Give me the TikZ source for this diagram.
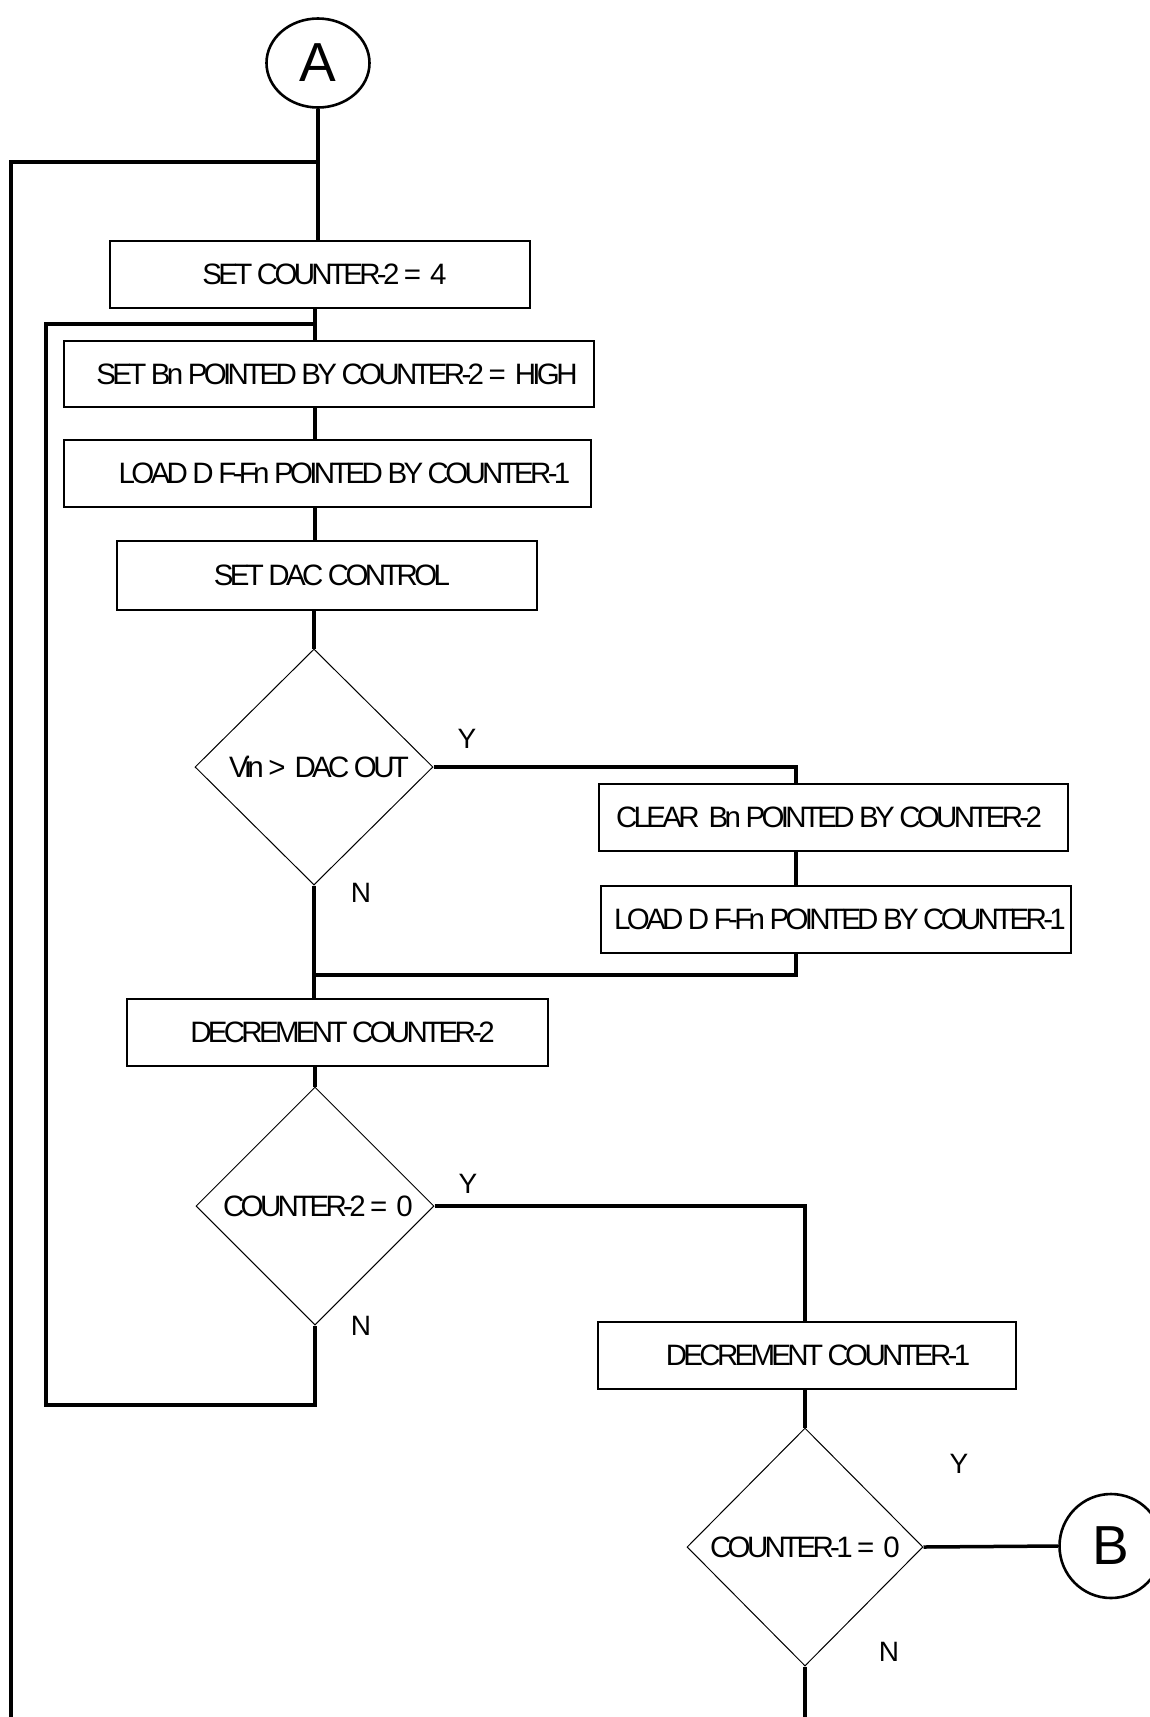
\documentclass[tikz,border=0pt]{standalone}
\usepackage{fontspec}
\setmainfont{Liberation Sans}[LetterSpace=-12.5]
\newfontfamily\ynfont{Liberation Sans}
\usetikzlibrary{shapes.geometric}
\begin{document}
\begin{tikzpicture}[x=1pt,y=-1pt,
  txt/.style={font=\fontsize{29.5}{31}\selectfont},
  procbox/.style={draw, line width=1.2pt, inner sep=0pt, txt},
  decbox/.style={diamond, draw, line width=1pt, inner sep=0pt, txt},
  conn/.style={draw, line width=3.5pt, line join=miter},
  connector/.style={ellipse, draw, line width=2.6pt, inner sep=0pt, font=\fontsize{55}{57}\selectfont\ynfont},
  yn/.style={font=\fontsize{28}{30}\selectfont\ynfont}]
\useasboundingbox[fill=white] (0,0) rectangle (1150,1717);

% connectors A, B
\node[connector, minimum width=103pt, minimum height=89pt] (A) at (318,63) {A};
\node[connector, minimum width=103pt, minimum height=104pt] (B) at (1111,1546) {B};

% process boxes
\node[procbox, minimum width=420pt, minimum height=67pt] (b1) at (320,274.5) {\hspace*{9pt}SET COUNTER-2 = \ 4};
\node[procbox, minimum width=530pt, minimum height=66pt] (b2) at (329,374) {\hspace*{16pt}SET Bn POINTED BY COUNTER-2 = \ HIGH};
\node[procbox, minimum width=527pt, minimum height=67pt] (b3) at (327.5,473.5) {\hspace*{34pt}LOAD D F-Fn POINTED BY COUNTER-1};
\node[procbox, minimum width=420pt, minimum height=69pt] (b4) at (327,575.5) {\hspace*{10pt}SET DAC CONTROL};
\node[procbox, minimum width=469pt, minimum height=67pt] (b5) at (833.5,817.5) {CLEAR \ Bn POINTED BY COUNTER-2\hspace*{9pt}};
\node[procbox, minimum width=470pt, minimum height=67pt] (b6) at (836,919.5) {\hspace*{8pt}LOAD D F-Fn POINTED BY COUNTER-1};
\node[procbox, minimum width=421pt, minimum height=67pt] (b7) at (337.5,1032.5) {\hspace*{10pt}DECREMENT COUNTER-2};
\node[procbox, minimum width=418pt, minimum height=67pt] (b8) at (807,1355.5) {\hspace*{22pt}DECREMENT COUNTER-1};

% decisions
\node[decbox, minimum width=238pt, minimum height=236pt] (d1) at (314,767) {\hspace*{10pt}Vin > \ DAC OUT};
\node[decbox, minimum width=238pt, minimum height=238pt] (d2) at (315,1206) {\hspace*{6pt}COUNTER-2 = \ 0};
\node[decbox, minimum width=236pt, minimum height=238pt] (d3) at (805,1547) {COUNTER-1 = \ 0};

% Y / N labels
\node[yn] (y1) at (467,739) {Y};
\node[yn] (n1) at (361,893) {N};
\node[yn] (y2) at (468,1184) {Y};
\node[yn] (n2) at (361,1326) {N};
\node[yn] (y3) at (959,1464) {Y};
\node[yn] (n3) at (889,1652) {N};

% helper coordinates
\coordinate (jA) at (318,162);
\coordinate (outerTop) at (11,162);
\coordinate (outerEnd) at (11,1717);
\coordinate (col) at (315,0);
\coordinate (jB) at (315,324);
\coordinate (innerTop) at (46,324);
\coordinate (innerBot) at (46,1405);
\coordinate (d2low) at (315,1405);
\coordinate (r1top) at (796,767);
\coordinate (r1bot) at (796,975);
\coordinate (jC) at (315,975);
\coordinate (r2top) at (805,1206);
\coordinate (d3end) at (805,1717);

% main column
\draw[conn] (A.south) -- (A.south |- b1.north);
\draw[conn] (jA) -- (outerTop) -- (outerEnd);
\draw[conn] (b1.south -| col) -- (b2.north -| col);
\draw[conn] (jB) -- (innerTop) -- (innerBot) -- (d2low) -- (d2.south);
\draw[conn] (b2.south -| col) -- (b3.north -| col);
\draw[conn] (b3.south -| col) -- (b4.north -| col);
\draw[conn] (b4.south -| d1.north) -- (d1.north);
\draw[conn] (d1.south) -- (b7.north -| d1.south);
\draw[conn] (b7.south -| d2.north) -- (d2.north);

% Y branch of d1
\draw[conn] (d1.east) -- (r1top) -- (b5.north -| r1top);
\draw[conn] (b5.south -| r1top) -- (b6.north -| r1top);
\draw[conn] (b6.south -| r1top) -- (r1bot) -- (jC);

% Y branch of d2
\draw[conn] (d2.east) -- (r2top) -- (b8.north -| r2top);
\draw[conn] (b8.south -| d3.north) -- (d3.north);
\draw[conn] (d3.east) -- (B.west);
\draw[conn] (d3.south) -- (d3end);
\end{tikzpicture}
\end{document}
